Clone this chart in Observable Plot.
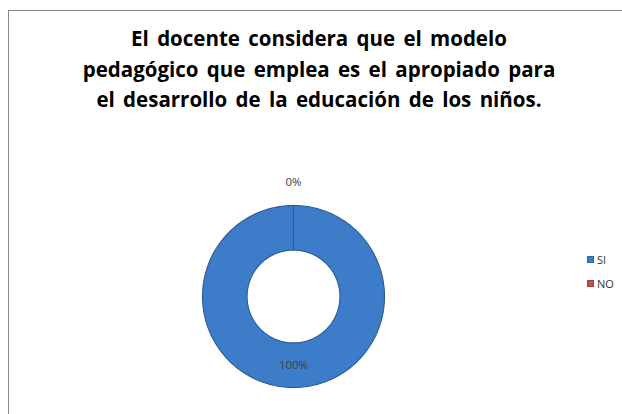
<!DOCTYPE html>
<html>
<head>
<meta charset="utf-8">
<script src="https://cdn.jsdelivr.net/npm/d3@7"></script>
<script src="https://cdn.jsdelivr.net/npm/@observablehq/plot@0.6"></script>
<style>
  html, body { margin: 0; padding: 0; background: #fff; }
  #frame { position: absolute; left: 8px; top: 10px; width: 640px; height: 420px; border: 1px solid #8a8a8a; box-sizing: border-box; }
  #title { position: absolute; left: 16px; top: 23px; width: 606px; text-align: center; font-family: "Open Sans", sans-serif; font-weight: bold; font-size: 20.5px; line-height: 30.5px; color: #000; word-spacing: 3px; }
  #chart { position: absolute; left: 0; top: 140px; }
  #legend { position: absolute; left: 587px; top: 247px; font-family: "Open Sans", sans-serif; font-size: 11px; color: #333; }
  #legend .row { display: flex; align-items: center; height: 24px; }
  #legend .sw { width: 7px; height: 7px; margin-right: 3px; box-sizing: border-box; }
</style>
</head>
<body>
<div id="frame"></div>
<div id="title">El docente considera que el modelo<br>pedagógico que emplea es el apropiado para<br>el desarrollo de la educación de los niños.</div>
<div id="chart"></div>
<div id="legend"></div>
<script>
const categories = ["SI", "NO"];
const values = [100, 0];
const labels = ["100%", "0%"];
const colors = ["#3d7cc9", "#c0504d"];

const inner = 0.51;
const pie = d3.pie().sort(null).startAngle(0).endAngle(2 * Math.PI)(values);

// ring polygons (angle measured clockwise from 12 o'clock)
const pt = (a, r) => [r * Math.sin(a), r * Math.cos(a)];
const rings = [];
pie.forEach((p, i) => {
  if (p.endAngle - p.startAngle <= 0) return;
  const n = 240;
  const pts = [];
  for (let k = 0; k <= n; k++) pts.push(pt(p.startAngle + (p.endAngle - p.startAngle) * k / n, 1));
  for (let k = n; k >= 0; k--) pts.push(pt(p.startAngle + (p.endAngle - p.startAngle) * k / n, inner));
  pts.push(pts[0]);
  pts.forEach(([x, y]) => rings.push({cat: categories[i], x, y}));
});

const labelData = pie.map((p, i) => {
  const mid = (p.startAngle + p.endAngle) / 2;
  const r = values[i] === 0 ? 1.26 : (1 + inner) / 2;
  const [x, y] = pt(mid, r);
  return {x, y, text: labels[i]};
});

const cx = 293, cy = 156, R = 91;
const chart = Plot.plot({
  width: 622,
  height: 274,
  margin: 0,
  x: {domain: [-1, 1], range: [cx - R, cx + R], axis: null},
  y: {domain: [-1, 1], range: [cy + R, cy - R], axis: null},
  color: {domain: categories, range: colors},
  style: {background: "transparent"},
  marks: [
    Plot.line(rings, {x: "x", y: "y", z: "cat", fill: "cat", stroke: "#2b5b94", strokeWidth: 1.1, curve: "linear"}),
    Plot.text(labelData, {x: "x", y: "y", text: "text", fill: "#404040", fontSize: 11.5, fontFamily: "'Open Sans', sans-serif"})
  ]
});
document.getElementById("chart").appendChild(chart);

const legend = document.getElementById("legend");
categories.forEach((c, i) => {
  const row = document.createElement("div");
  row.className = "row";
  const sw = document.createElement("div");
  sw.className = "sw";
  sw.style.background = colors[i];
  sw.style.border = "1px solid " + d3.color(colors[i]).darker(0.6);
  const t = document.createElement("span");
  t.textContent = c;
  row.appendChild(sw); row.appendChild(t);
  legend.appendChild(row);
});
</script>
</body>
</html>
